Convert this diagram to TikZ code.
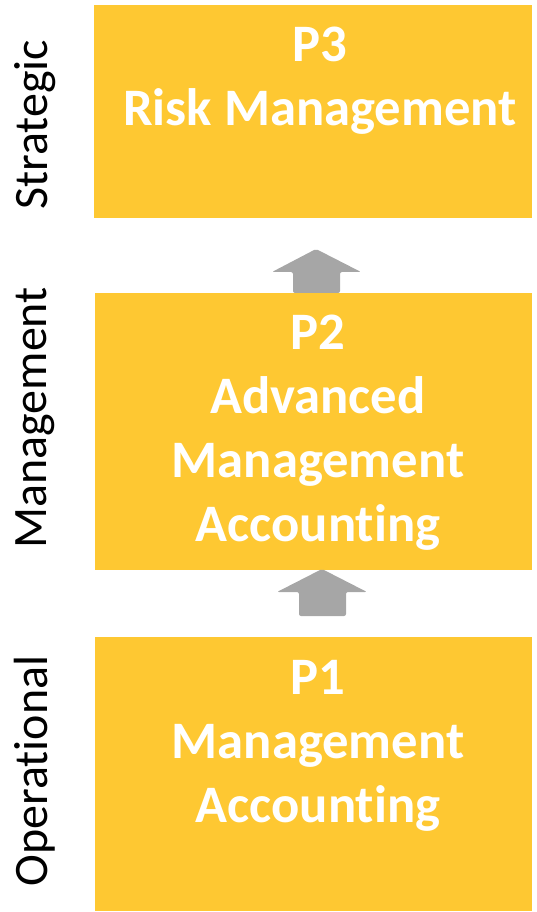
\documentclass[tikz,border=0pt]{standalone}
\usepackage{fontspec}
\setmainfont{Carlito}[Ligatures=NoCommon]
\definecolor{boxyellow}{RGB}{254,200,50}
\definecolor{arrowgray}{RGB}{166,166,166}

\begin{document}
\begin{tikzpicture}[x=0.75pt,y=0.75pt,yscale=-1,xscale=1]
\useasboundingbox (0,0) rectangle (536,912);

%Shape: Rectangle [P3]
\fill[boxyellow] (94,5) -- (532,5) -- (532,218) -- (94,218) -- cycle ;
%Shape: Rectangle [P2]
\fill[boxyellow] (95,293) -- (532,293) -- (532,570) -- (95,570) -- cycle ;
%Shape: Rectangle [P1]
\fill[boxyellow] (95,637) -- (532,637) -- (532,911) -- (95,911) -- cycle ;

%Up Arrow [P2 to P3]
\fill[arrowgray, rounded corners=1.5pt] (293,293) -- (293,272) -- (272,272) -- (316,249) -- (361,272) -- (340,272) -- (340,293) -- cycle ;
%Up Arrow [P1 to P2]
\fill[arrowgray, rounded corners=1.5pt] (299,616) -- (299,592) -- (277,592) -- (322,569) -- (367,592) -- (346,592) -- (346,616) -- cycle ;

% Text Node
\node (p3) at (320,27) [anchor=north, inner sep=0pt, align=center, text=white, font=\fontsize{39.5}{48}\selectfont\bfseries] {P3\\Risk Management};
% Text Node
\node (p2) at (318,315) [anchor=north, inner sep=0pt, align=center, text=white, font=\fontsize{39.5}{48}\selectfont\bfseries] {P2\\Advanced\\Management\\Accounting};
% Text Node
\node (p1) at (318,660) [anchor=north, inner sep=0pt, align=center, text=white, font=\fontsize{39.5}{48}\selectfont\bfseries] {P1\\Management\\Accounting};

% Text Node
\node (strategic) at (35,125) [rotate=90, inner sep=0pt, font=\fontsize{36}{42}\selectfont] {Strategic};
% Text Node
\node (management) at (35,418) [rotate=90, inner sep=0pt, font=\fontsize{36}{42}\selectfont] {Management};
% Text Node
\node (operational) at (35,771) [rotate=90, inner sep=0pt, font=\fontsize{36}{42}\selectfont] {Operational};

\end{tikzpicture}
\end{document}
